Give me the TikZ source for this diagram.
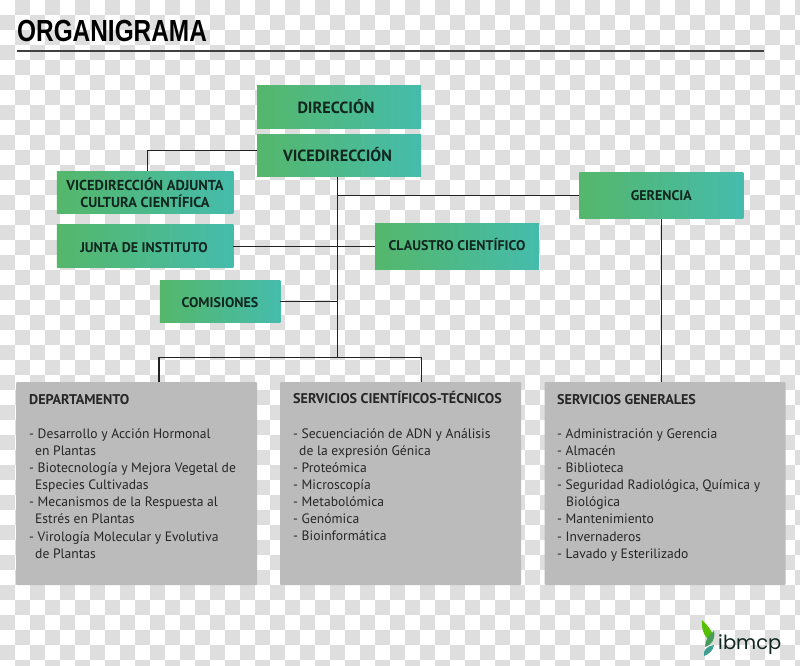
\documentclass[tikz,border=0pt]{standalone}
\usepackage{fontspec}
\setmainfont{PT Sans}
\newfontfamily\logofont{Poppins}
\newfontfamily\titlefont{Liberation Sans}
\definecolor{boxleft}{HTML}{55B76B}
\definecolor{boxright}{HTML}{45BCAC}
\definecolor{boxtext}{HTML}{10261E}
\definecolor{panelgray}{HTML}{BBBBBB}
\definecolor{checkgray}{HTML}{DEDEDE}
\definecolor{linegray}{HTML}{222222}
\tikzset{
	greenbox/.style={left color=boxleft,right color=boxright,inner sep=0pt,align=center,text=boxtext,font=\fontsize{14}{17}\selectfont\bfseries},
	topbox/.style={greenbox,minimum width=164pt,minimum height=42.5pt,font=\fontsize{16.2}{17}\selectfont\bfseries},
	panel/.style={fill=panelgray,rounded corners=1pt,inner sep=0pt,minimum height=203pt,minimum width=241pt},
	paneltext/.style={anchor=north west,inner sep=0pt,align=left,text=black!85,font=\fontsize{13.6}{17.1}\selectfont},
	conn/.style={draw=linegray,line width=1pt},
	connthick/.style={draw=linegray,line width=1.5pt}
}
\newcommand{\paneltitle}[1]{{\fontsize{14.1}{17.1}\selectfont\bfseries #1}}
\begin{document}
\begin{tikzpicture}[x=1pt,y=-1pt]
		\useasboundingbox (0,0) rectangle (800,666);
		\begin{scope}
		\clip (0,0) rectangle (800,666);
		\foreach \i in {0,...,53}{\foreach \j in {0,...,44}{
			\pgfmathparse{int(mod(\i+\j,2))}
			\ifnum\pgfmathresult=1 \fill[checkgray] (15*\i,15*\j) rectangle ++(15,15);\fi
		}}
		\end{scope}
		\node[anchor=base west,inner sep=0pt,xscale=0.8,font=\fontsize{30.5}{30}\titlefont\bfseries] (title) at (17,42) {ORGANIGRAMA};
		\coordinate (ruleleft) at (17,51);
		\coordinate (ruleright) at (763.5,51);
		\draw[draw=black!75,line width=1.4pt] (ruleleft) -- (ruleright);
		\node[topbox] (direccion) at (339,107) {\raisebox{2pt}{DIRECCIÓN\hspace*{6pt}}};
		\node[topbox] (vice) at (339,155.5) {\raisebox{2pt}{VICEDIRECCIÓN\hspace*{3pt}}};
		\node[greenbox,minimum width=176.5pt,minimum height=42.5pt,font=\fontsize{14.4}{17}\selectfont\bfseries] (adjunta) at (145,192.5) {VICEDIRECCIÓN ADJUNTA\\CULTURA CIENTÍFICA};
		\node[greenbox,minimum width=176.5pt,minimum height=42.5pt] (junta) at (145,246) {\rule{0pt}{14pt}JUNTA DE INSTITUTO\hspace*{2pt}};
		\node[greenbox,minimum width=120.5pt,minimum height=42.5pt] (comisiones) at (220,301.5) {\rule{0pt}{13pt}COMISIONES};
		\node[greenbox,minimum width=164pt,minimum height=46pt] (claustro) at (457,246) {\raisebox{4pt}{CLAUSTRO CIENTÍFICO}};
		\node[greenbox,minimum width=164pt,minimum height=46.5pt] (gerencia) at (661.3,195.3) {GERENCIA};
		\node[panel] (depto) at (136.5,483.5) {};
		\node[panel] (cientificos) at (400.5,483.5) {};
		\node[panel] (generales) at (665,483.5) {};
		\node[paneltext] (deptotext) at (29,394) {\paneltitle{DEPARTAMENTO}\\[17.1pt]- Desarrollo y Acción Hormonal\\\hspace*{6pt}en Plantas\\- Biotecnología y Mejora Vegetal de\\\hspace*{6pt}Especies Cultivadas\\- Mecanismos de la Respuesta al\\\hspace*{6pt}Estrés en Plantas\\- Virología Molecular y Evolutiva\\\hspace*{6pt}de Plantas};
		\node[paneltext] (cientificostext) at (293,391.5) {\paneltitle{SERVICIOS CIENTÍFICOS-TÉCNICOS}\\[17.1pt]- Secuenciación de ADN y Análisis\\\hspace*{6pt}de la expresión Génica\\- Proteómica\\- Microscopía\\- Metabolómica\\- Genómica\\- Bioinformática};
		\node[paneltext] (generalestext) at (557,394) {\paneltitle{SERVICIOS GENERALES}\\[17.1pt]- Administración y Gerencia\\- Almacén\\- Biblioteca\\- Seguridad Radiológica, Química y\\\hspace*{9pt}Biológica\\- Mantenimiento\\- Invernaderos\\- Lavado y Esterilizado};
		\coordinate (trunk) at (337.5,357.3);
		\coordinate (busleft) at (159,357.3);
		\coordinate (busright) at (421.7,357.3);
		\coordinate (adjuntaelbow) at (147.7,150.7);
		\draw[connthick] (vice.west |- adjuntaelbow) -- (adjuntaelbow) -- (adjuntaelbow |- adjunta.north);
		\draw[conn] (vice.south -| trunk) -- (trunk);
		\draw[conn] (trunk |- gerencia.west) -- (gerencia.west);
		\draw[conn] (junta.east) -- (claustro.west |- junta.east);
		\draw[conn] (comisiones.east) -- (trunk |- comisiones.east);
		\draw[conn] (busleft) -- (busright);
		\draw[connthick] (busleft) -- (busleft |- depto.north);
		\draw[conn] (busright) -- (busright |- cientificos.north);
		\draw[conn] (gerencia.south) -- (gerencia.south |- generales.north);
		\fill[green!55!yellow!75!black] (702,620) .. controls (701,631) and (706,640) .. (712,641) .. controls (715,633) and (708,626) .. (702,620);
		\fill[boxleft!85!black] (714,631) .. controls (716,638) and (712,645) .. (705,647) .. controls (705,640) and (709,635) .. (714,631);
		\fill[boxright!85!black] (714,645) .. controls (713,651) and (709,654) .. (704,656) .. controls (703,650) and (707,646) .. (714,645);
		\node[anchor=base west,inner sep=0pt,text=boxtext,font=\fontsize{19.5}{20}\logofont] (logo) at (718,649.5) {ibmcp};
\end{tikzpicture}
\end{document}
